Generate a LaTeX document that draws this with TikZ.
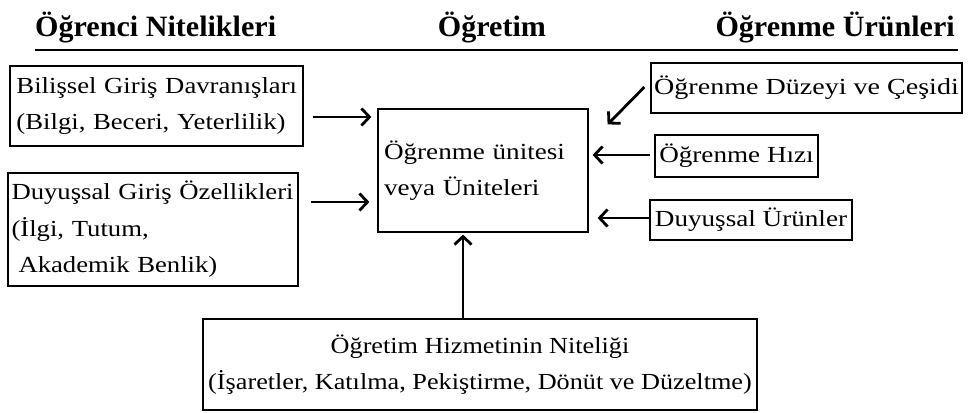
\documentclass[tikz,border=0pt]{standalone}
\usepackage{fontspec}
\setmainfont{Liberation Serif}
\newfontfamily\bodyfont[FakeStretch=1.18]{Liberation Serif}
\newfontfamily\leftfont[FakeStretch=1.16]{Liberation Serif}
\newfontfamily\widefont[FakeStretch=1.22]{Liberation Serif}
\newfontfamily\botfont[FakeStretch=1.14]{Liberation Serif}
\newfontfamily\headfont[FakeStretch=1.02]{Liberation Serif}
\usetikzlibrary{arrows.meta}
\begin{document}
\begin{tikzpicture}[x=1pt,y=-1pt,
  box/.style={draw=black,line width=1.2pt,rectangle,inner xsep=5pt,inner ysep=0pt,
    font=\bodyfont\fontsize{23}{36.5}\selectfont},
  head/.style={font=\headfont\bfseries\fontsize{29.5}{32}\selectfont,inner sep=0pt},
  arr/.style={line width=2.8pt,-{Straight Barb[length=8pt,width=17pt,line width=2.8pt]}}
]
\useasboundingbox (0,0) rectangle (968,412);
% headers
\node[head,anchor=base west] (h1) at (35,37) {Öğrenci Nitelikleri};
\node[head,anchor=base] (h2) at (492,37) {Öğretim};
\node[head,anchor=base east] (h3) at (955,37) {Öğrenme Ürünleri};
\coordinate (lineL) at (35,50);
\coordinate (lineR) at (958,50);
\draw[line width=2.2pt] (lineL) -- (lineR);
% left boxes
\node[box,font=\leftfont\fontsize{23}{36.5}\selectfont,minimum width=293pt,minimum height=80pt,text width=290pt,align=left,inner xsep=1.5pt] (b1) at (156.5,106)
  {\mbox{\hspace*{5pt}Bilişsel Giriş Davranışları}\\\mbox{\hspace*{5pt}(Bilgi, Beceri, Yeterlilik)}};
\node[box,font=\leftfont\fontsize{23}{36.5}\selectfont,minimum width=290pt,minimum height=113pt,text width=287pt,align=left,inner xsep=1.5pt] (b2) at (153,229.5)
  {\mbox{\hspace*{2pt}Duyuşsal Giriş Özellikleri}\\\mbox{\hspace*{2pt}(İlgi, Tutum,}\\\mbox{\hspace*{9pt}Akademik Benlik)}};
% center box
\node[box,minimum width=210pt,minimum height=123pt,text width=198pt,align=left,inner xsep=6pt] (cen) at (483,170.5)
  {Öğrenme ünitesi\\veya Üniteleri};
% right boxes
\node[box,font=\widefont\fontsize{23}{36.5}\selectfont,minimum width=311pt,minimum height=50pt,inner xsep=2pt] (r1) at (806.5,88)
  {Öğrenme Düzeyi ve Çeşidi};
\node[box,minimum width=163pt,minimum height=42pt,inner xsep=2pt] (r2) at (736.5,156)
  {Öğrenme Hızı};
\node[box,minimum width=202pt,minimum height=40pt,inner xsep=2pt] (r3) at (751,220)
  {Duyuşsal Ürünler};
% bottom box
\node[box,font=\botfont\fontsize{23}{36.5}\selectfont,minimum width=554pt,minimum height=91pt,align=center] (bot) at (480,364.5)
  {Öğretim Hizmetinin Niteliği\\(İşaretler, Katılma, Pekiştirme, Dönüt ve Düzeltme)};
% arrows
\draw[arr] ([xshift=9pt]b1.east |- 0,117) -- ([xshift=-6pt]cen.west |- 0,117);
\draw[arr] ([xshift=12pt]b2.east |- 0,202) -- ([xshift=-8pt]cen.west |- 0,202);
\draw[arr] ([shift={(-6,-1)}]r1.west) -- ([shift={(19,16)}]cen.north east);
\draw[arr] ([xshift=-4pt]r2.west |- 0,155) -- ([xshift=4pt]cen.east |- 0,155);
\draw[arr] (r3.west |- 0,218) -- ([xshift=9pt]cen.east |- 0,218);
\draw[arr] ([xshift=-17pt]bot.north) -- ([xshift=-17pt,yshift=-2pt]bot.north |- cen.south);
\end{tikzpicture}
\end{document}
